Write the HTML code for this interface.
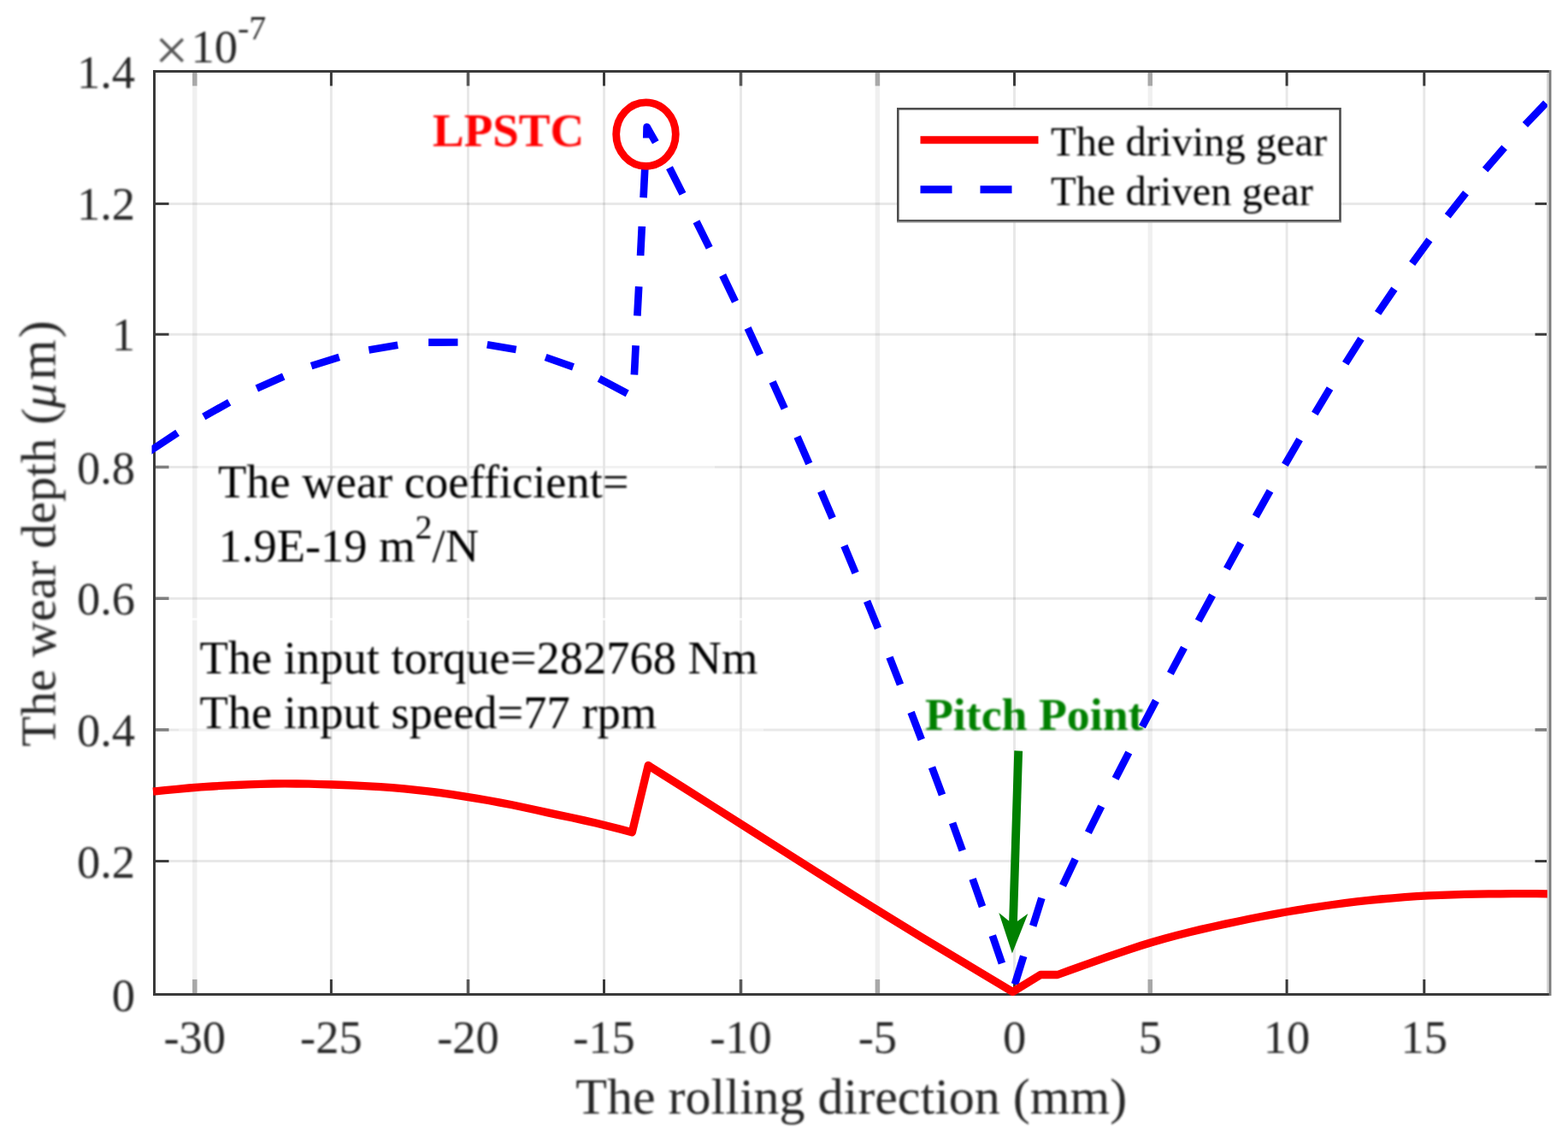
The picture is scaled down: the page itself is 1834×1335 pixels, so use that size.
<!DOCTYPE html>
<html lang="en"><head><meta charset="utf-8"><title>Wear depth along the rolling direction</title>
<style>
html,body{margin:0;padding:0;background:#fff;}
body{width:1834px;height:1335px;overflow:hidden;}
svg{display:block;font-family:"Liberation Serif", serif;}
text{white-space:pre;}
</style></head><body>
<svg width="1834" height="1335" viewBox="0 0 1834 1335" role="img" aria-label="Wear depth versus rolling direction">
<defs><clipPath id="plotclip"><rect x="177.5" y="82" width="1632.3" height="1083.5"/></clipPath>
<filter id="soft" x="-10%" y="-10%" width="120%" height="120%"><feGaussianBlur stdDeviation="0.8"/></filter></defs>
<rect x="0" y="0" width="1834" height="1335" fill="#ffffff"/>
<g>
<g stroke="#000000" stroke-opacity="0.092" stroke-width="3" fill="none">
<line x1="227.8" y1="83.5" x2="227.8" y2="1163.5" stroke-width="5.5" stroke-opacity="0.06"/>
<line x1="387.4" y1="83.5" x2="387.4" y2="1163.5"/>
<line x1="547.5" y1="83.5" x2="547.5" y2="1163.5"/>
<line x1="706.5" y1="83.5" x2="706.5" y2="1163.5"/>
<line x1="866.5" y1="83.5" x2="866.5" y2="1163.5"/>
<line x1="1026.4" y1="83.5" x2="1026.4" y2="1163.5" stroke-width="5.5" stroke-opacity="0.06"/>
<line x1="1186.5" y1="83.5" x2="1186.5" y2="1163.5"/>
<line x1="1345.3" y1="83.5" x2="1345.3" y2="1163.5" stroke-width="5.5" stroke-opacity="0.06"/>
<line x1="1505.1" y1="83.5" x2="1505.1" y2="1163.5"/>
<line x1="1665.8" y1="83.5" x2="1665.8" y2="1163.5"/>
<line x1="180.5" y1="1007.6" x2="1811.0" y2="1007.6"/>
<line x1="180.5" y1="853.9" x2="1811.0" y2="853.9"/>
<line x1="180.5" y1="700.2" x2="1811.0" y2="700.2"/>
<line x1="180.5" y1="546.5" x2="1811.0" y2="546.5"/>
<line x1="180.5" y1="391.2" x2="1811.0" y2="391.2"/>
<line x1="180.5" y1="238.4" x2="1811.0" y2="238.4"/>
</g>
<g stroke="#3a3a3a" stroke-width="3" fill="none">
<line x1="227.8" y1="1163.5" x2="227.8" y2="1145.9" stroke="#a8a8a8" stroke-width="5.5"/>
<line x1="227.8" y1="83.5" x2="227.8" y2="100.5" stroke="#a8a8a8" stroke-width="5.5"/>
<line x1="387.4" y1="1163.5" x2="387.4" y2="1145.9"/>
<line x1="387.4" y1="83.5" x2="387.4" y2="100.5"/>
<line x1="547.5" y1="1163.5" x2="547.5" y2="1145.9" stroke="#5a5a5a" stroke-width="3.6"/>
<line x1="547.5" y1="83.5" x2="547.5" y2="100.5" stroke="#5a5a5a" stroke-width="3.6"/>
<line x1="706.5" y1="1163.5" x2="706.5" y2="1145.9"/>
<line x1="706.5" y1="83.5" x2="706.5" y2="100.5"/>
<line x1="866.5" y1="1163.5" x2="866.5" y2="1145.9" stroke="#5a5a5a" stroke-width="3.6"/>
<line x1="866.5" y1="83.5" x2="866.5" y2="100.5" stroke="#5a5a5a" stroke-width="3.6"/>
<line x1="1026.4" y1="1163.5" x2="1026.4" y2="1145.9" stroke="#a8a8a8" stroke-width="5.5"/>
<line x1="1026.4" y1="83.5" x2="1026.4" y2="100.5" stroke="#a8a8a8" stroke-width="5.5"/>
<line x1="1186.5" y1="1163.5" x2="1186.5" y2="1145.9"/>
<line x1="1186.5" y1="83.5" x2="1186.5" y2="100.5"/>
<line x1="1345.3" y1="1163.5" x2="1345.3" y2="1145.9" stroke="#a8a8a8" stroke-width="5.5"/>
<line x1="1345.3" y1="83.5" x2="1345.3" y2="100.5" stroke="#a8a8a8" stroke-width="5.5"/>
<line x1="1505.1" y1="1163.5" x2="1505.1" y2="1145.9"/>
<line x1="1505.1" y1="83.5" x2="1505.1" y2="100.5"/>
<line x1="1665.8" y1="1163.5" x2="1665.8" y2="1145.9"/>
<line x1="1665.8" y1="83.5" x2="1665.8" y2="100.5"/>
<line x1="180.5" y1="1007.6" x2="197.5" y2="1007.6"/>
<line x1="1812.5" y1="1007.6" x2="1795.5" y2="1007.6"/>
<line x1="180.5" y1="853.9" x2="197.5" y2="853.9" stroke="#808080" stroke-width="3.6"/>
<line x1="1812.5" y1="853.9" x2="1795.5" y2="853.9" stroke="#808080" stroke-width="3.6"/>
<line x1="180.5" y1="700.2" x2="197.5" y2="700.2" stroke="#808080" stroke-width="3.6"/>
<line x1="1812.5" y1="700.2" x2="1795.5" y2="700.2" stroke="#808080" stroke-width="3.6"/>
<line x1="180.5" y1="546.5" x2="197.5" y2="546.5" stroke="#808080" stroke-width="3.6"/>
<line x1="1812.5" y1="546.5" x2="1795.5" y2="546.5" stroke="#808080" stroke-width="3.6"/>
<line x1="180.5" y1="391.2" x2="197.5" y2="391.2"/>
<line x1="1812.5" y1="391.2" x2="1795.5" y2="391.2"/>
<line x1="180.5" y1="238.4" x2="197.5" y2="238.4"/>
<line x1="1812.5" y1="238.4" x2="1795.5" y2="238.4"/>
</g>
<g stroke="#ffffff" stroke-width="3" fill="none">
<line x1="232" y1="546.5" x2="836" y2="546.5" stroke-opacity="0.45"/>
<line x1="209" y1="724.5" x2="893" y2="724.5" stroke-opacity="0.7"/>
<line x1="209" y1="853.9" x2="893" y2="853.9" stroke-opacity="0.45"/>
</g>
<g fill="#000000" font-size="54.5" filter="url(#soft)">
<text x="255" y="582">The wear coefficient=</text>
<text x="255.5" y="657">1.9E-19 m<tspan dy="-27" font-size="40">2</tspan><tspan dy="27">/N</tspan></text>
<text x="233.5" y="788">The input torque=282768 Nm</text>
<text x="233.5" y="852">The input speed=77 rpm</text>
</g>
<line x1="1810.5" y1="83.5" x2="1810.5" y2="1163.5" stroke="#d6d6d6" stroke-width="3"/>
<path d="M1812.5,83.5 L180.5,83.5 L180.5,1163.5 L1812.5,1163.5" fill="none" stroke="#3a3a3a" stroke-width="3" stroke-linejoin="miter"/>
<line x1="1813.1" y1="82.0" x2="1813.1" y2="1165.0" stroke="#7c7c7c" stroke-width="2.8"/>
<g clip-path="url(#plotclip)" fill="none" stroke-linejoin="round">
<path d="M174.0,528.6 L207.6,506.4 M238.3,487.5 L268.2,470.7 M300.3,454.5 L331.7,440.6 M364.1,428.2 L396.8,417.9 M431.4,409.5 L465.3,403.8 M501.2,400.6 L535.5,400.5 M569.8,403.3 L603.7,409.0 M638.1,418.0 L670.5,429.4 M700.7,442.8 L733.7,460.4 M741.9,438.5 L743.6,404.2 M745.4,369.6 L747.2,335.3 M749.1,299.1 L750.8,264.9 M752.6,231.2 L754.4,194.9 M756.3,161.5 L756.6,148.5 L766.8,166.3 M783.0,196.3 L798.5,226.9 M814.5,259.2 L829.7,289.9 M845.2,322.0 L860.0,352.9 M874.6,383.9 L889.0,415.0 M903.6,446.7 L917.7,478.0 M932.5,511.1 L946.3,542.5 M960.2,574.7 L973.7,606.2 M987.4,638.7 L1000.6,670.4 M1014.1,703.4 L1027.0,735.2 M1040.5,769.0 L1053.0,801.0 M1065.6,833.4 L1077.8,865.4 M1090.0,897.7 L1102.0,929.9 M1114.1,962.9 L1125.7,995.1 M1137.6,1028.4 L1149.0,1060.8 M1160.8,1094.6 L1171.9,1127.1 M1187.0,1151.6 L1197.2,1118.8 M1208.2,1083.4 L1218.4,1050.7 M1243.0,1036.1 L1257.7,1005.1 M1272.9,974.1 L1288.2,943.4 M1304.6,911.1 L1320.3,880.6 M1336.0,850.3 L1352.0,819.9 M1368.9,788.0 L1385.0,757.7 M1401.7,726.5 L1418.1,696.4 M1434.9,665.5 L1451.4,635.4 M1468.7,604.3 L1485.5,574.3 M1502.9,543.8 L1520.1,514.1 M1537.8,484.0 L1555.5,454.6 M1573.7,425.3 L1592.0,396.3 M1611.6,366.4 L1630.9,338.0 M1651.7,308.4 L1671.9,280.6 M1693.2,252.7 L1714.5,225.8 M1737.1,198.6 L1759.6,172.7 M1783.9,145.9 L1808.2,120.5" stroke="#0000ff" stroke-width="8.7"/>
<path d="M179.0,926.2 L193.0,924.7 L207.0,923.3 L221.0,922.0 L235.0,920.9 L249.0,920.0 L263.0,919.2 L277.0,918.5 L291.0,917.9 L305.0,917.4 L319.0,917.0 L333.0,916.9 L347.0,917.0 L361.0,917.2 L375.0,917.6 L389.0,918.0 L403.0,918.5 L417.0,919.1 L431.0,919.8 L445.0,920.7 L459.0,921.7 L473.0,922.9 L487.0,924.3 L501.0,925.9 L515.0,927.7 L529.0,929.7 L543.0,931.8 L557.0,934.1 L571.0,936.5 L585.0,939.1 L599.0,941.8 L613.0,944.8 L627.0,947.8 L641.0,950.9 L655.0,953.9 L669.0,956.8 L683.0,959.9 L697.0,963.0 L711.0,966.4 L725.0,970.0 L739.0,973.7 L739.3,973.8 L758.2,895.5 L798.2,920.8 L838.2,946.1 L878.2,971.5 L918.2,996.9 L958.2,1022.3 L998.2,1047.5 L1038.2,1072.3 L1078.2,1096.7 L1118.2,1120.8 L1158.2,1144.8 L1184.5,1160.5 L1217.1,1140.5 L1237.0,1140.5 L1251.0,1135.4 L1265.0,1130.4 L1279.0,1125.4 L1293.0,1120.4 L1307.0,1115.6 L1321.0,1110.8 L1335.0,1106.3 L1349.0,1102.0 L1363.0,1098.0 L1377.0,1094.3 L1391.0,1090.7 L1405.0,1087.4 L1419.0,1084.2 L1433.0,1081.1 L1447.0,1078.2 L1461.0,1075.3 L1475.0,1072.5 L1489.0,1069.9 L1503.0,1067.3 L1517.0,1064.9 L1531.0,1062.6 L1545.0,1060.5 L1559.0,1058.5 L1573.0,1056.6 L1587.0,1054.9 L1601.0,1053.4 L1615.0,1052.0 L1629.0,1050.8 L1643.0,1049.7 L1657.0,1048.7 L1671.0,1047.9 L1685.0,1047.3 L1699.0,1046.8 L1713.0,1046.4 L1727.0,1046.1 L1741.0,1045.9 L1755.0,1045.8 L1769.0,1045.7 L1783.0,1045.7 L1797.0,1045.7 L1811.0,1045.8 L1812.0,1045.8" stroke="#ff0000" stroke-width="9.3"/>
</g>
<ellipse cx="755.5" cy="157.1" rx="34.8" ry="37.2" fill="none" stroke="#ff0000" stroke-width="8.8"/>
<text x="506" y="171" font-size="55" font-weight="bold" fill="#ff0000" filter="url(#soft)">LPSTC</text>
<text x="1082" y="854" font-size="53.8" font-weight="bold" fill="#008000" filter="url(#soft)">Pitch Point</text>
<g transform="translate(1183.9,1115.4) rotate(1.76)" fill="#008000" stroke="none">
<rect x="-4.9" y="-237" width="9.8" height="205"/>
<path d="M0,0 L-17,-47 L0,-34 L17,-47 Z"/>
</g>
<rect x="1050.3" y="127.3" width="517.2" height="131" fill="#ffffff" stroke="#4d4d4d" stroke-width="2.6"/>
<line x1="1049" y1="259.6" x2="1569" y2="259.6" stroke="#8c8c8c" stroke-width="1.6"/>
<line x1="1076.5" y1="163.8" x2="1214.5" y2="163.8" stroke="#ff0000" stroke-width="9"/>
<line x1="1076.5" y1="221.8" x2="1214.5" y2="221.8" stroke="#0000ff" stroke-width="9" stroke-dasharray="37 33"/>
<g fill="#000000" font-size="48.5" filter="url(#soft)">
<text x="1229" y="181.8">The driving gear</text>
<text x="1229" y="239.8">The driven gear</text>
</g>
<g fill="#262626" font-size="54.5" filter="url(#soft)">
<text x="227.8" y="1232" text-anchor="middle">-30</text>
<text x="387.4" y="1232" text-anchor="middle">-25</text>
<text x="547.5" y="1232" text-anchor="middle">-20</text>
<text x="706.5" y="1232" text-anchor="middle">-15</text>
<text x="866.5" y="1232" text-anchor="middle">-10</text>
<text x="1026.4" y="1232" text-anchor="middle">-5</text>
<text x="1186.5" y="1232" text-anchor="middle">0</text>
<text x="1345.3" y="1232" text-anchor="middle">5</text>
<text x="1505.1" y="1232" text-anchor="middle">10</text>
<text x="1665.8" y="1232" text-anchor="middle">15</text>
<text x="158" y="1182.5" text-anchor="end">0</text>
<text x="158" y="1026.6" text-anchor="end">0.2</text>
<text x="158" y="872.9" text-anchor="end">0.4</text>
<text x="158" y="719.2" text-anchor="end">0.6</text>
<text x="158" y="565.5" text-anchor="end">0.8</text>
<text x="158" y="410.2" text-anchor="end">1</text>
<text x="158" y="257.4" text-anchor="end">1.2</text>
<text x="158" y="102.5" text-anchor="end">1.4</text>
<text x="181" y="81.5" font-size="70" fill="#555555">×</text>
<text x="223.5" y="73">10<tspan dx="0" dy="-27" font-size="40">-7</tspan></text>
</g>
<g fill="#262626" font-size="60" filter="url(#soft)">
<text x="995.7" y="1302.5" text-anchor="middle">The rolling direction (mm)</text>
<text transform="translate(64.5,873.6) rotate(-90)" font-size="58">The wear depth <tspan dx="1.5">(</tspan><tspan font-style="italic">μ</tspan><tspan dx="3.5" font-size="61">m</tspan><tspan dx="2" font-size="61">)</tspan></text>
</g>
</g>
</svg>
</body></html>
